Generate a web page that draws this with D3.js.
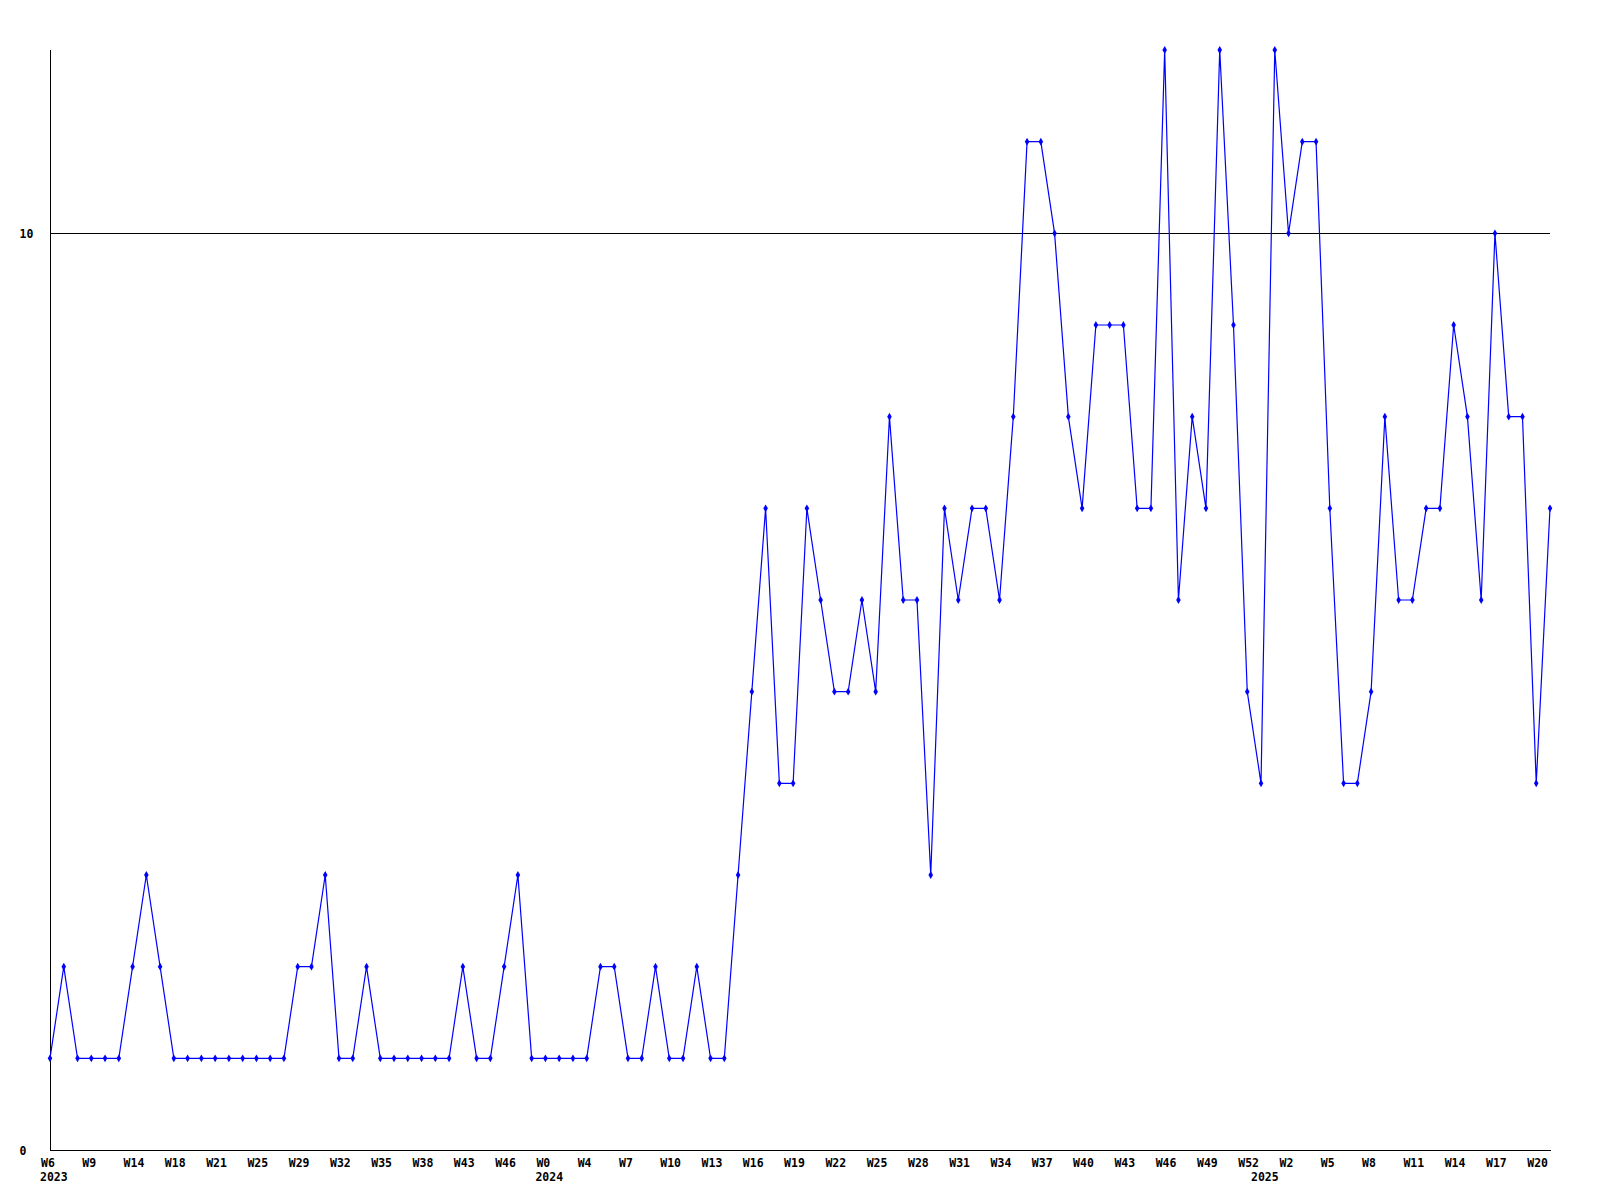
<!DOCTYPE html>
<html>
<head>
<meta charset="utf-8">
<script src="https://cdn.jsdelivr.net/npm/d3@7"></script>
<style>
  html, body { margin: 0; padding: 0; background: #ffffff; }
  svg { display: block; }
  text { font-family: "DejaVu Sans Mono", "Liberation Mono", monospace; font-weight: bold; font-size: 11.5px; fill: #000; }
</style>
</head>
<body>
<svg id="chart" width="1600" height="1200"></svg>
<script>
// Values per data point (110 points)
const values = [
  1,2,1,1,1,1,2,3,2,1,
  1,1,1,1,1,1,1,1,2,2,
  3,1,1,2,1,1,1,1,1,1,
  2,1,1,2,3,1,1,1,1,1,
  2,2,1,1,2,1,1,2,1,1,
  3,5,7,4,4,7,6,5,5,6,
  5,8,6,6,3,7,6,7,7,6,
  8,11,11,10,8,7,9,9,9,7,
  7,12,6,8,7,12,9,5,4,12,
  10,11,11,7,4,4,5,8,6,6,
  7,7,9,8,6,10,8,8,4,7
];
// Week tick labels, every third point
const tickLabels = [
  "W6","W9","W14","W18","W21","W25","W29","W32","W35","W38","W43","W46",
  "W0","W4","W7","W10","W13","W16","W19","W22","W25","W28","W31","W34",
  "W37","W40","W43","W46","W49","W52","W2","W5","W8","W11","W14","W17","W20"
];
const tickStep = 3;
// Year labels and the point index where each year starts
const yearLabels = ["2023", "2024", "2025"];
const yearIndex = [0, 36, 88];
// Y axis
const yTicks = [0, 10];
const yMax = 12;

const svg = d3.select("#chart");
const mLeft = 50, mRight = 1550, mTop = 50, mBottom = 1150;

const x = d3.scaleLinear().domain([0, values.length - 1]).range([mLeft, mRight]);
const y = d3.scaleLinear().domain([0, yMax]).range([mBottom, mTop]);

// Horizontal reference lines at y ticks (other than 0)
svg.append("g").selectAll("line")
  .data(yTicks.filter(d => d !== 0))
  .join("line")
  .attr("x1", mLeft).attr("x2", mRight)
  .attr("y1", d => Math.round(y(d)) + 0.5).attr("y2", d => Math.round(y(d)) + 0.5)
  .attr("stroke", "#000").attr("stroke-width", 1)
  .attr("shape-rendering", "crispEdges");

// Y axis
const yAxis = d3.axisLeft(y).tickValues(yTicks).tickSize(0).tickFormat(d3.format("d"));
const gy = svg.append("g").attr("transform", `translate(${mLeft + 0.5},0.5)`).call(yAxis);
gy.select(".domain").attr("stroke", "#000").attr("shape-rendering", "crispEdges").attr("d", `M0,${mTop - 1}V${mBottom}`);
gy.selectAll(".tick text")
  .attr("x", 19 - mLeft).attr("text-anchor", "start")
  .attr("dy", "0.35em")
  .style("font-family", '"DejaVu Sans Mono", monospace').style("font-size", "11.5px").style("font-weight", "bold");

// X axis
const tickIdx = tickLabels.map((_, i) => i * tickStep);
const xAxis = d3.axisBottom(x).tickValues(tickIdx).tickSize(0)
  .tickFormat((d, i) => tickLabels[i]);
const gx = svg.append("g").attr("transform", `translate(0.5,${mBottom + 0.5})`).call(xAxis);
gx.select(".domain").attr("stroke", "#000").attr("shape-rendering", "crispEdges").attr("d", `M${mLeft},0H${mRight}`);
gx.selectAll(".tick text")
  .attr("text-anchor", "start").attr("x", -10).attr("y", 8).attr("dy", "0.71em")
  .style("font-family", '"DejaVu Sans Mono", monospace').style("font-size", "11.5px").style("font-weight", "bold");

// Year labels
svg.append("g").selectAll("text")
  .data(yearLabels)
  .join("text")
  .attr("x", (d, i) => x(yearIndex[i]) - 10)
  .attr("y", mBottom + 31)
  .text(d => d);

// Line
const line = d3.line().x((d, i) => x(i)).y(d => y(d));
svg.append("path")
  .datum(values)
  .attr("fill", "none")
  .attr("stroke", "#0000ff")
  .attr("stroke-width", 1.2)
  .attr("d", line);

// Markers
const sym = d3.symbol().type(d3.symbolDiamond).size(18);
svg.append("g").selectAll("path")
  .data(values)
  .join("path")
  .attr("transform", (d, i) => `translate(${x(i)},${y(d)})`)
  .attr("d", sym)
  .attr("fill", "#0000ff");
</script>
</body>
</html>
